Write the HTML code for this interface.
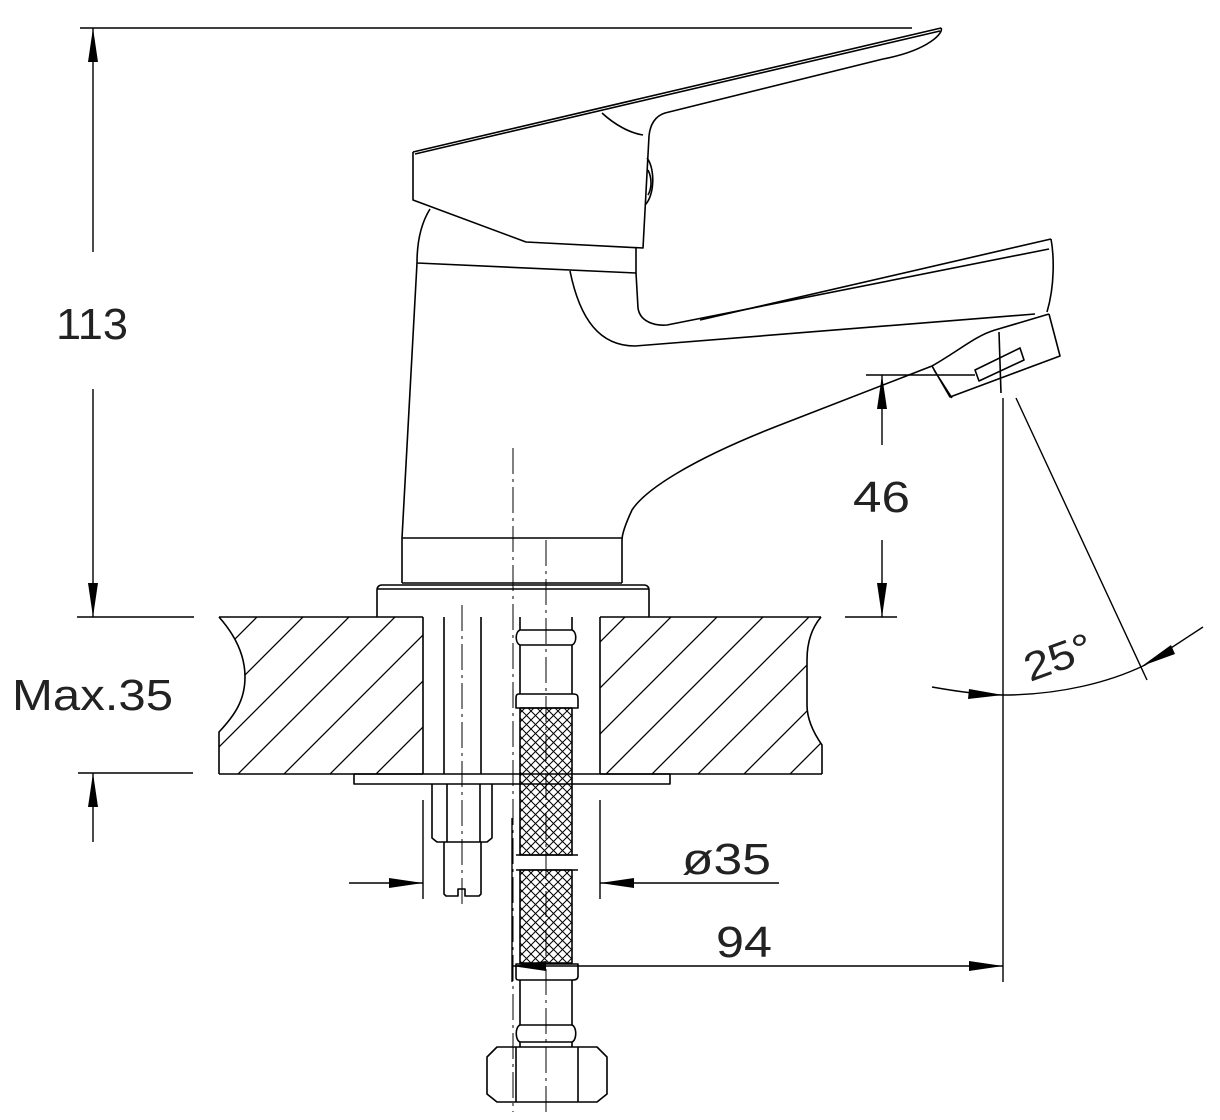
<!DOCTYPE html>
<html><head><meta charset="utf-8"><style>
html,body{margin:0;padding:0;background:#fff;}
svg{display:block;}
text{font-family:"Liberation Sans",sans-serif;fill:#222;}
</style></head><body>
<svg width="1220" height="1120" viewBox="0 0 1220 1120" xmlns="http://www.w3.org/2000/svg">
<defs>
<pattern id="hatch" patternUnits="userSpaceOnUse" width="46" height="46">
<path d="M-5,5 L5,-5 M0,46 L46,0 M41,51 L51,41" stroke="#000" stroke-width="1.3"/>
</pattern>
<pattern id="braid" patternUnits="userSpaceOnUse" width="9" height="9">
<path d="M0,0 L9,9 M9,0 L0,9" stroke="#000" stroke-width="1"/>
</pattern>
<clipPath id="cl"><path d="M219,617 L423,617 L423,774 L219,774 L219,732 C235,715 245,700 245,677 C245,655 235,635 219,617 Z"/></clipPath>
<clipPath id="cr"><path d="M600,617 L821,617 C810,630 807,645 807,660 L807,705 C807,720 815,735 822,745 L822,774 L600,774 Z"/></clipPath>
</defs>
<g fill="none" stroke="#000" stroke-width="1.6" stroke-linejoin="round">
<path d="M80,28 L912,28"/>
<rect x="219" y="617" width="204" height="157" fill="url(#hatch)" stroke="none" clip-path="url(#cl)"/>
<rect x="600" y="617" width="222" height="157" fill="url(#hatch)" stroke="none" clip-path="url(#cr)"/>
<path d="M219,617 L423,617 M600,617 L821,617 M219,774 L423,774 M600,774 L822,774"/>
<path d="M219,617 C235,635 245,655 245,677 C245,700 235,715 219,732 L219,774"/>
<path d="M821,617 C810,630 807,645 807,660 L807,705 C807,720 815,735 822,745 L822,774"/>
<path d="M423,617 L423,774 M600,617 L600,774"/>
<path d="M444,617 L444,774 M481,617 L481,774"/>
<rect x="354" y="774" width="316" height="10"/>
<path d="M432,784 L432,838 L437,842 L487,842 L492,838 L492,784 M447,784 L447,842 M480,784 L480,842"/>
<path d="M444,842 L444,894 L446,896 L458,896 L458,889 L465,889 L465,896 L479,896 L481,894 L481,842"/>
<rect x="520" y="708" width="52" height="147" fill="url(#braid)"/>
<rect x="520" y="870" width="52" height="93" fill="url(#braid)"/>
<path d="M520,617 L520,630 M572,617 L572,630"/>
<path d="M520,630 C515,632 515,643 520,645 L572,645 C577,643 577,632 572,630 Z"/>
<path d="M520,645 L520,694 M572,645 L572,694"/>
<path d="M519,694 L573,694 C578,694 578,696 578,700 L578,708 L516,708 L516,700 C516,696 516,694 519,694 Z"/>
<path d="M516,855 L578,855 M516,870 L578,870"/>
<path d="M516,964 L578,964 L578,976 C578,979 576,980 573,980 L519,980 C516,980 516,979 516,976 Z"/>
<path d="M520,980 L520,1025 M572,980 L572,1025"/>
<path d="M520,1025 C515,1027 515,1040 520,1042 L572,1042 C577,1040 577,1027 572,1025 Z"/>
<path d="M520,1042 L520,1047 M572,1042 L572,1047"/>
<path d="M497,1047 L597,1047 L607,1057 L607,1094 L597,1102 L497,1102 L487,1094 L487,1057 Z M516,1047 L516,1102 M578,1047 L578,1102"/>
<path d="M377,617 L377,590 C377,587 379,585 382,585 L644,585 C647,585 649,587 649,590 L649,617 M377,589 L649,589"/>
<path d="M402,583 L622,583 M402,538 L622,538"/>
<path d="M417,263 L402,538 L402,583"/>
<path d="M430,209 C420,225 417,245 417,263 L636,273 L636,248"/>
<path d="M413,152 L413,200 L526,242 L643,248 L649,136"/>
<path d="M413,152 L941,28 M415,154 L940,31"/>
<path d="M941,28 C944,32 930,50 883,59 L665,113 C655,116 650,125 649,136"/>
<path d="M602,113 C615,125 630,133 643,135"/>
<path d="M647,158 C655,168 655,195 645,205"/>
<path d="M648,170 C652,178 652,188 648,195"/>
<path d="M570,271 C580,320 600,346 635,346 L1035,314"/>
<path d="M636,273 L638,308 C640,322 655,326 667,325 L1049,249"/>
<path d="M700,320 L1051,239"/>
<path d="M1051,239 C1054,255 1055,285 1047,312"/>
<path d="M932,366 L950,397 L1060,356 L1049,314 M932,366 C960,350 975,336 995,330 L1049,314 M934,370 L952,398"/>
<path d="M975,370 L979,381 L1024,360 L1020,348 Z M999,332 L1001,393"/>
<path d="M932,366 L780,425 C690,460 645,490 632,510 C625,525 622,535 622,540 L622,583"/>
</g>
<g fill="none" stroke="#000" stroke-width="1" stroke-dasharray="26,5,3,5">
<path d="M513,448 L513,1112"/>
<path d="M546,540 L546,1112"/>
<path d="M462,605 L462,905"/>
</g>
<g fill="none" stroke="#000" stroke-width="1.4">
<path d="M93,28 L93,252 M93,389 L93,617 M77,617 L194,617 M78,773 L193,773 M93,773 L93,842"/>
<path d="M866,375 L975,375 M882,375 L882,445 M882,540 L882,617 M845,617 L897,617"/>
<path d="M1003,398 L1003,982 M1016,398 L1147,680"/>
<path d="M932,687 C960,692 985,695 1003,695 C1060,695 1110,682 1145,665 L1203,627"/>
<path d="M349,883 L423,883 M423,800 L423,899 M600,800 L600,899 M600,883 L779,883"/>
<path d="M512,818 L512,982 M512,966 L1003,966"/>
</g>
<g fill="#000" stroke="none">
<path d="M93,28 L88,62 L98,62 Z"/>
<path d="M93,617 L88,583 L98,583 Z"/>
<path d="M93,773 L88,807 L98,807 Z"/>
<path d="M882,375 L877,409 L887,409 Z"/>
<path d="M882,617 L877,583 L887,583 Z"/>
<path d="M423,883 L389,878 L389,888 Z"/>
<path d="M600,883 L634,878 L634,888 Z"/>
<path d="M512,966 L546,961 L546,971 Z"/>
<path d="M1003,966 L969,961 L969,971 Z"/>
<path d="M1003,695 L969,689 L968,699 Z"/>
<path d="M1142,666 L1171,645 L1175,654 Z"/>
</g>
<text x="56" y="339" font-size="44" textLength="72" lengthAdjust="spacingAndGlyphs">113</text>
<text x="12" y="710" font-size="44" textLength="161" lengthAdjust="spacingAndGlyphs">Max.35</text>
<text x="853" y="512" font-size="44" textLength="57" lengthAdjust="spacingAndGlyphs">46</text>
<text x="682" y="874" font-size="44" textLength="89" lengthAdjust="spacingAndGlyphs">ø35</text>
<text x="716" y="957" font-size="44" textLength="56" lengthAdjust="spacingAndGlyphs">94</text>
<text x="1030" y="682" font-size="40" transform="rotate(-20 1030 682)" textLength="70" lengthAdjust="spacingAndGlyphs">25°</text>
</svg>
</body></html>
